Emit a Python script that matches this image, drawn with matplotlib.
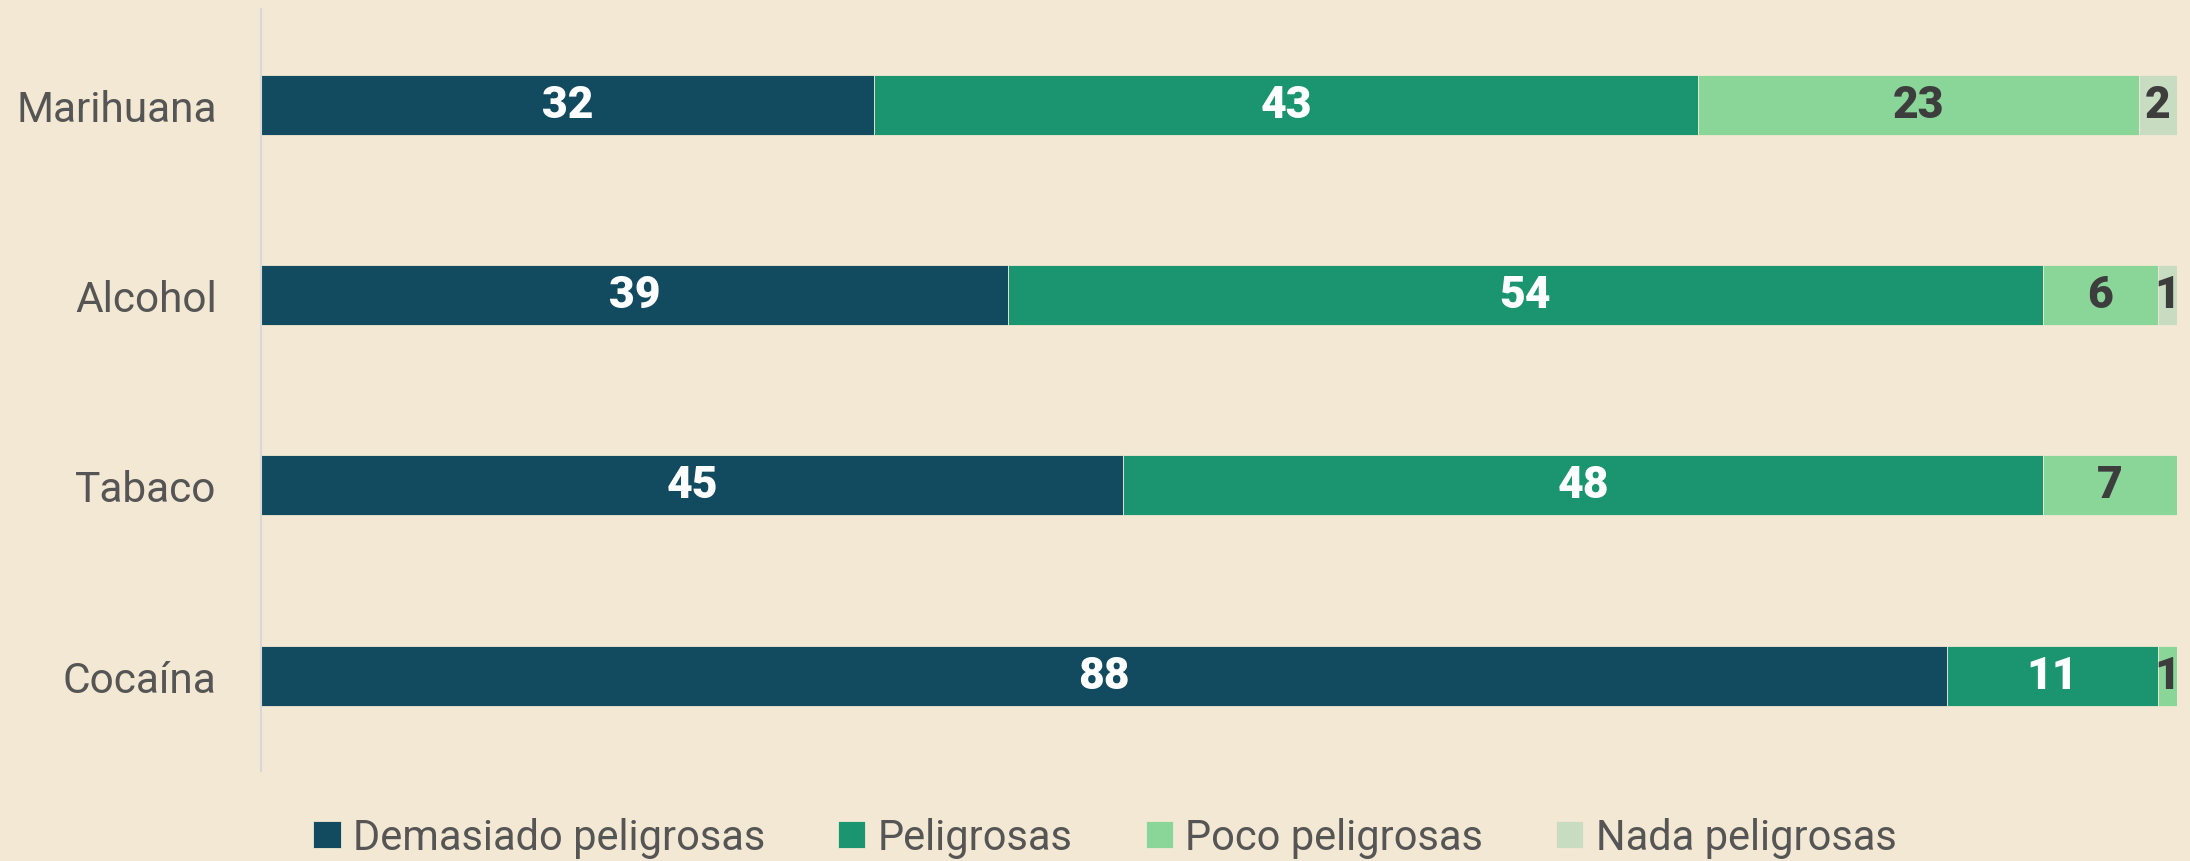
import matplotlib
matplotlib.use("Agg")
import matplotlib.pyplot as plt
import numpy as np

categories = ["Marihuana", "Alcohol", "Tabaco", "Cocaína"]
series_names = ["Demasiado peligrosas", "Peligrosas", "Poco peligrosas", "Nada peligrosas"]
demasiado = [32, 39, 45, 88]
peligrosas = [43, 54, 48, 11]
poco = [23, 6, 7, 1]
nada = [2, 1, 0, 0]

colors = ["#124b5f", "#1b9570", "#8ad598", "#c7dcc1"]
label_colors = ["white", "white", "#3d3d3d", "#3d3d3d"]
bg = "#f2e8d3"

plt.rcParams['font.family'] = ['Roboto', 'DejaVu Sans']

fig = plt.figure(figsize=(21.9, 8.62), dpi=100, facecolor=bg)
ax = fig.add_axes([0.1192, 0.1044, 0.994 - 0.1192, 0.988 - 0.1044])
ax.set_facecolor(bg)

y = np.arange(len(categories))
left = np.zeros(len(categories))
for name, vals, c, lc in zip(series_names, [demasiado, peligrosas, poco, nada], colors, label_colors):
    vals = np.array(vals, dtype=float)
    ax.barh(y, vals, left=left, height=0.315, color=c, label=name,
            edgecolor=bg, linewidth=0.6)
    for yi, l, v in zip(y, left, vals):
        if v > 0:
            ax.text(l + v / 2, yi, f"{int(v)}", ha="center", va="center",
                    color=lc, fontsize=32, fontweight="heavy")
    left += vals

ax.set_xlim(0, 100)
ax.set_ylim(3.5, -0.5)
ax.set_yticks(y)
ax.set_yticklabels(categories, fontsize=30.5, color="#555555")
ax.tick_params(axis="y", length=0, pad=32)
ax.set_xticks([])
for s in ["top", "right", "bottom"]:
    ax.spines[s].set_visible(False)
ax.spines["left"].set_color("#d8d8d8")
ax.spines["left"].set_linewidth(1.5)

leg = fig.legend(loc="center", bbox_to_anchor=(0.5045, 0.027), ncol=4, frameon=False,
                 fontsize=30, handlelength=0.65, handleheight=0.65, handletextpad=0.3,
                 columnspacing=1.75, labelcolor="#555555")

fig.savefig("out.png", dpi=100, facecolor=bg)
